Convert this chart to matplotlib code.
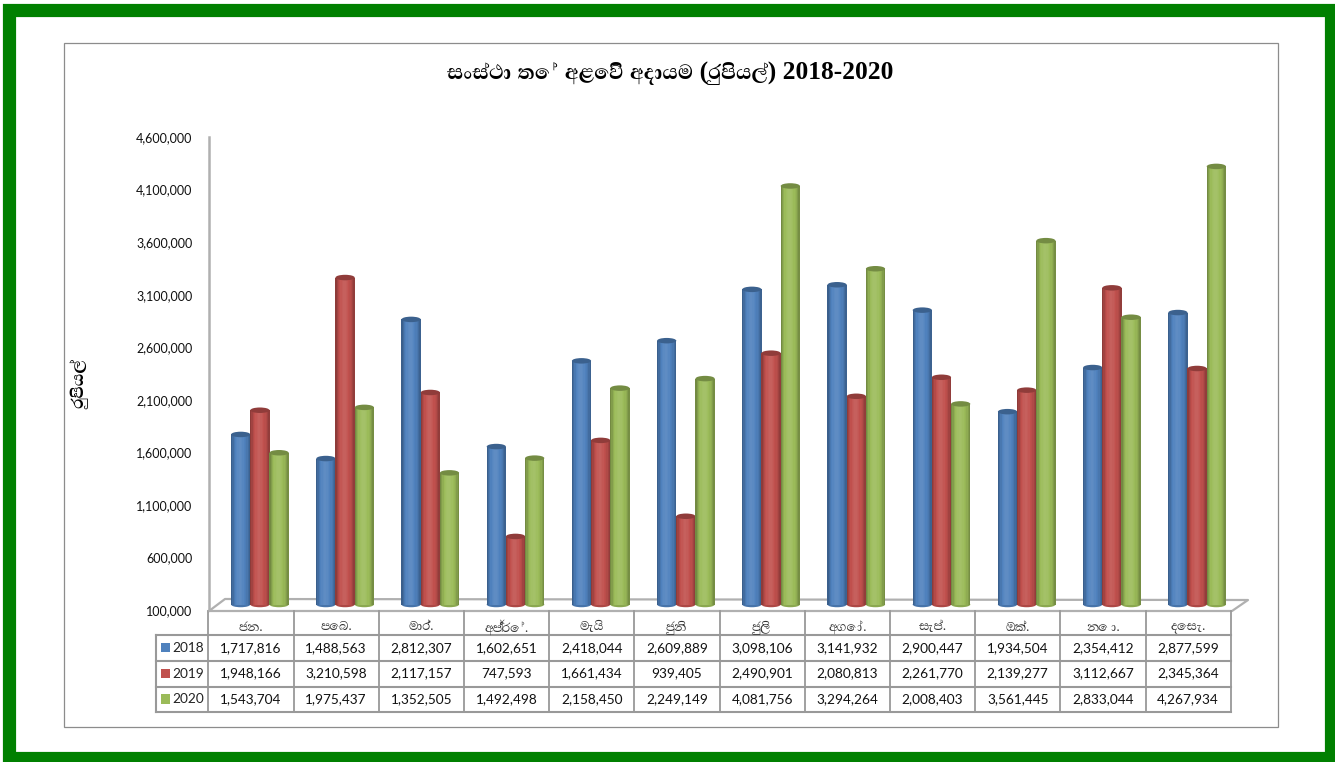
import matplotlib
matplotlib.use("Agg")
import matplotlib.pyplot as plt
import numpy as np
from matplotlib.colors import to_rgb
from matplotlib.patches import Ellipse, Rectangle

W, H = 1335, 762

title = "සංස්ථා තේ අළෙවි අදායම (රුපියල්) 2018-2020"
ylabel = "රුපියල්"
months = ["ජන.", "පෙබ.", "මාර්.", "අප්‍රේ.", "මැයි", "ජුනි", "ජුලි", "අගෝ.", "සැප්.", "ඔක්.", "නො.", "දෙසැ."]
years = ["2018", "2019", "2020"]
v2018 = [1717816, 1488563, 2812307, 1602651, 2418044, 2609889, 3098106, 3141932, 2900447, 1934504, 2354412, 2877599]
v2019 = [1948166, 3210598, 2117157, 747593, 1661434, 939405, 2490901, 2080813, 2261770, 2139277, 3112667, 2345364]
v2020 = [1543704, 1975437, 1352505, 1492498, 2158450, 2249149, 4081756, 3294264, 2008403, 3561445, 2833044, 4267934]
yticks = [100000, 600000, 1100000, 1600000, 2100000, 2600000, 3100000, 3600000, 4100000, 4600000]
colors = ["#4F81BD", "#C0504D", "#9BBB59"]

series = [v2018, v2019, v2020]
sinhala = ["Abhaya Libre", "FreeSerif", "DejaVu Sans"]
ymin, ymax = yticks[0], yticks[-1]


def px_axes(x0, y_top, x1, y_bottom, **kw):
    return fig.add_axes([x0 / W, 1 - y_bottom / H, (x1 - x0) / W, (y_bottom - y_top) / H], **kw)


def shade(color, f):
    c = np.array(to_rgb(color))
    return tuple(c * f) if f <= 1 else tuple(c + (1 - c) * (f - 1))


fig = plt.figure(figsize=(W / 100, H / 100), dpi=100, facecolor="white")

# page layer: border, frame, floor, table
bg = px_axes(0, 0, W, H)
bg.set_xlim(0, W)
bg.set_ylim(H, 0)
bg.axis("off")
bg.add_patch(Rectangle((9, 10), 1322, 748, fill=False, ec="#008000", lw=9.5))
bg.add_patch(Rectangle((64, 42.5), 1214, 684, fill=False, ec="#8c8c8c", lw=0.9))
bg.text(670, 73, title, ha="center", va="center", fontsize=18.4, fontweight="bold",
        family=["Liberation Serif", "Abhaya Libre", "FreeSerif"])
bg.text(81, 385, ylabel, ha="center", va="center", rotation=90, fontsize=15, fontweight="bold", family=sinhala)

# floor of the 3d plot
floor_c = "#b0b0b0"
bg.plot([209, 1232, 1248, 225, 209], [611, 611, 600, 599, 611], color=floor_c, lw=1.6)

# table
table_x = 208.3 + np.arange(13) * (1230.7 - 208.3) / 12
rows_y = [635, 660.7, 686.5, 712]
line_c = "#999999"
for x in table_x:
    bg.plot([x, x], [611, 712], color=line_c, lw=1.3)
for y in rows_y:
    bg.plot([156, 1230.7], [y, y], color=line_c, lw=1.5)
bg.plot([156, 156], [635, 712], color=line_c, lw=1.5)

for i, m in enumerate(months):
    bg.text((table_x[i] + table_x[i + 1]) / 2, 627, m, ha="center", va="center", fontsize=11.5, color="#333333",
            family=sinhala)
for r, (year, vals) in enumerate(zip(years, series)):
    yc = (rows_y[r] + rows_y[r + 1]) / 2
    bg.add_patch(Rectangle((161, yc - 5), 8.5, 9.5, fc=colors[r], ec="none"))
    bg.text(188, yc, year, ha="center", va="center", fontsize=9.8, family="Lato", color="#222222")
    for i, v in enumerate(vals):
        bg.text((table_x[i] + table_x[i + 1]) / 2, yc, f"{v:,}", ha="center", va="center", fontsize=9.8,
                family="Lato", color="#111111")

# value axis sits a few pixels in front of the bars
ax_y = px_axes(209, 137, 1231, 610)
ax_y.patch.set_alpha(0)
ax_y.set_ylim(ymin, ymax)
ax_y.set_xticks([])
ax_y.set_yticks(yticks)
ax_y.set_yticklabels([f"{t:,}" for t in yticks], fontsize=9, family="Lato", color="#111111")
ax_y.tick_params(axis="y", length=0, pad=12)
for s in ["top", "right", "bottom"]:
    ax_y.spines[s].set_visible(False)
ax_y.spines["left"].set_color(floor_c)
ax_y.spines["left"].set_linewidth(1.8)

# cylinders
ax = px_axes(208.3, 131.5, 1230.7, 604.5)
ax.patch.set_alpha(0)
ax.axis("off")
ax.set_xlim(0, 12)
ax.set_ylim(ymin, ymax)

bar_w = 19.2 / 85.2
shift = 9 / 85.2
ell_h = 5.5 / 473 * (ymax - ymin)
offsets = np.linspace(-0.5, 0.5, 15)
factors = [0.74, 0.84, 0.93, 1.0, 1.04, 1.07, 1.09, 1.09, 1.07, 1.04, 1.0, 0.97, 0.92, 0.84, 0.76]
for j, vals in enumerate(series):
    for i, v in enumerate(vals):
        xc = i + 0.5 + shift + (j - 1) * bar_w
        ax.add_patch(Ellipse((xc, ymin), bar_w, ell_h, fc=shade(colors[j], 0.9), ec="none", clip_on=False, zorder=2 + j))
        for o, f in zip(offsets, factors):
            ax.bar(xc + o * bar_w * 14 / 15, v - ymin, width=bar_w / 15 * 1.2, bottom=ymin, color=shade(colors[j], f),
                   lw=0, zorder=2 + j)
        ax.add_patch(Ellipse((xc, v), bar_w, ell_h, fc=shade(colors[j], 0.75), ec="none", zorder=2 + j))

fig.savefig("out.png", dpi=100)
